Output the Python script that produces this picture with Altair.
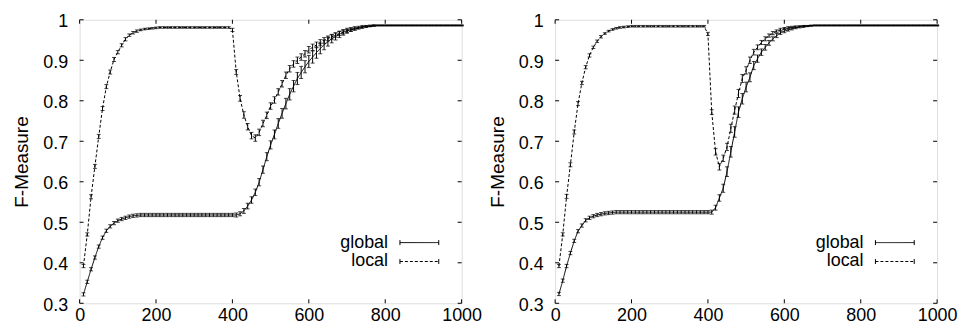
import altair as alt
import pandas as pd

FONT = "Liberation Sans"

X = list(range(10, 1001, 10))
XTICKS = [0, 200, 400, 600, 800, 1000]
YTICKS = [0.3, 0.4, 0.5, 0.6, 0.7, 0.8, 0.9, 1.0]
SERIES = ["global", "local"]

# ---- left panel ----
GLOBAL_L = [
    0.322, 0.353, 0.384, 0.413, 0.440, 0.462, 0.479, 0.490, 0.498, 0.504,
    0.508, 0.511, 0.514, 0.516, 0.517, 0.518, 0.518, 0.518, 0.518, 0.518,
    0.518, 0.518, 0.518, 0.518, 0.518, 0.518, 0.518, 0.518, 0.518, 0.518,
    0.518, 0.518, 0.518, 0.518, 0.518, 0.518, 0.518, 0.518, 0.518, 0.518,
    0.518, 0.521, 0.528, 0.540, 0.555, 0.574, 0.599, 0.630, 0.662, 0.691,
    0.717, 0.744, 0.769, 0.793, 0.816, 0.836, 0.855, 0.870, 0.884, 0.897,
    0.908, 0.919, 0.929, 0.938, 0.946, 0.953, 0.959, 0.964, 0.969, 0.973,
    0.976, 0.979, 0.981, 0.983, 0.984, 0.985, 0.986, 0.986, 0.986, 0.986,
    0.986, 0.986, 0.986, 0.986, 0.986, 0.986, 0.986, 0.986, 0.986, 0.986,
    0.986, 0.986, 0.986, 0.986, 0.986, 0.986, 0.986, 0.986, 0.986, 0.986,
]
GLOBAL_L_ERR = [
    0.004, 0.004, 0.004, 0.004, 0.004, 0.004, 0.004, 0.004, 0.004, 0.004,
    0.004, 0.004, 0.004, 0.004, 0.004, 0.004, 0.004, 0.004, 0.004, 0.004,
    0.004, 0.004, 0.004, 0.004, 0.004, 0.004, 0.004, 0.004, 0.004, 0.004,
    0.004, 0.004, 0.004, 0.004, 0.004, 0.004, 0.004, 0.004, 0.004, 0.004,
    0.005, 0.005, 0.006, 0.007, 0.008, 0.008, 0.009, 0.009, 0.010, 0.010,
    0.011, 0.012, 0.012, 0.013, 0.014, 0.014, 0.015, 0.015, 0.015, 0.015,
    0.015, 0.014, 0.013, 0.012, 0.011, 0.010, 0.009, 0.008, 0.007, 0.006,
    0.005, 0.004, 0.003, 0.003, 0.002, 0.002, 0.002, 0.001, 0.001, 0.001,
    0.001, 0.001, 0.001, 0.001, 0.001, 0.001, 0.001, 0.001, 0.001, 0.001,
    0.001, 0.001, 0.001, 0.001, 0.001, 0.001, 0.001, 0.001, 0.001, 0.001,
]
LOCAL_L = [
    0.392, 0.470, 0.563, 0.638, 0.712, 0.781, 0.835, 0.871, 0.902, 0.920,
    0.937, 0.952, 0.962, 0.968, 0.972, 0.975, 0.977, 0.978, 0.979, 0.980,
    0.981, 0.981, 0.981, 0.981, 0.981, 0.981, 0.981, 0.981, 0.981, 0.981,
    0.981, 0.981, 0.981, 0.981, 0.981, 0.981, 0.981, 0.981, 0.981, 0.975,
    0.871, 0.806, 0.765, 0.736, 0.714, 0.708, 0.722, 0.744, 0.764, 0.787,
    0.802, 0.822, 0.842, 0.863, 0.879, 0.891, 0.900, 0.908, 0.916, 0.926,
    0.932, 0.938, 0.944, 0.949, 0.954, 0.958, 0.962, 0.966, 0.969, 0.972,
    0.975, 0.977, 0.979, 0.981, 0.983, 0.984, 0.985, 0.986, 0.986, 0.986,
    0.986, 0.986, 0.986, 0.986, 0.986, 0.986, 0.986, 0.986, 0.986, 0.986,
    0.986, 0.986, 0.986, 0.986, 0.986, 0.986, 0.986, 0.986, 0.986, 0.986,
]
LOCAL_L_ERR = [
    0.004, 0.004, 0.005, 0.005, 0.005, 0.005, 0.005, 0.005, 0.005, 0.004,
    0.004, 0.004, 0.003, 0.003, 0.003, 0.002, 0.002, 0.002, 0.002, 0.002,
    0.002, 0.002, 0.002, 0.002, 0.002, 0.002, 0.002, 0.002, 0.002, 0.002,
    0.002, 0.002, 0.002, 0.002, 0.002, 0.002, 0.002, 0.002, 0.002, 0.004,
    0.006, 0.007, 0.008, 0.008, 0.008, 0.008, 0.008, 0.008, 0.008, 0.008,
    0.008, 0.008, 0.008, 0.008, 0.008, 0.008, 0.008, 0.008, 0.008, 0.008,
    0.008, 0.007, 0.007, 0.007, 0.006, 0.006, 0.005, 0.005, 0.004, 0.004,
    0.003, 0.003, 0.002, 0.002, 0.002, 0.001, 0.001, 0.001, 0.001, 0.001,
    0.001, 0.001, 0.001, 0.001, 0.001, 0.001, 0.001, 0.001, 0.001, 0.001,
    0.001, 0.001, 0.001, 0.001, 0.001, 0.001, 0.001, 0.001, 0.001, 0.001,
]

# ---- right panel ----
GLOBAL_R = [
    0.323, 0.356, 0.392, 0.424, 0.454, 0.478, 0.492, 0.505, 0.511, 0.515,
    0.518, 0.520, 0.522, 0.523, 0.524, 0.525, 0.525, 0.525, 0.525, 0.525,
    0.525, 0.525, 0.525, 0.525, 0.525, 0.525, 0.525, 0.525, 0.525, 0.525,
    0.525, 0.525, 0.525, 0.525, 0.525, 0.525, 0.525, 0.525, 0.525, 0.525,
    0.525, 0.536, 0.560, 0.584, 0.625, 0.674, 0.723, 0.772, 0.805, 0.834,
    0.858, 0.887, 0.904, 0.920, 0.932, 0.943, 0.953, 0.961, 0.968, 0.972,
    0.975, 0.978, 0.980, 0.982, 0.983, 0.984, 0.985, 0.986, 0.986, 0.986,
    0.986, 0.986, 0.986, 0.986, 0.986, 0.986, 0.986, 0.986, 0.986, 0.986,
    0.986, 0.986, 0.986, 0.986, 0.986, 0.986, 0.986, 0.986, 0.986, 0.986,
    0.986, 0.986, 0.986, 0.986, 0.986, 0.986, 0.986, 0.986, 0.986, 0.986,
]
GLOBAL_R_ERR = [
    0.004, 0.004, 0.004, 0.004, 0.004, 0.004, 0.004, 0.004, 0.004, 0.004,
    0.004, 0.004, 0.004, 0.004, 0.004, 0.004, 0.004, 0.004, 0.004, 0.004,
    0.004, 0.004, 0.004, 0.004, 0.004, 0.004, 0.004, 0.004, 0.004, 0.004,
    0.004, 0.004, 0.004, 0.004, 0.004, 0.004, 0.004, 0.004, 0.004, 0.004,
    0.005, 0.006, 0.008, 0.010, 0.012, 0.013, 0.013, 0.013, 0.013, 0.012,
    0.011, 0.010, 0.009, 0.008, 0.007, 0.006, 0.005, 0.005, 0.004, 0.004,
    0.003, 0.003, 0.002, 0.002, 0.002, 0.001, 0.001, 0.001, 0.001, 0.001,
    0.001, 0.001, 0.001, 0.001, 0.001, 0.001, 0.001, 0.001, 0.001, 0.001,
    0.001, 0.001, 0.001, 0.001, 0.001, 0.001, 0.001, 0.001, 0.001, 0.001,
    0.001, 0.001, 0.001, 0.001, 0.001, 0.001, 0.001, 0.001, 0.001, 0.001,
]
LOCAL_R = [
    0.392, 0.470, 0.564, 0.642, 0.723, 0.793, 0.844, 0.883, 0.912, 0.932,
    0.947, 0.958, 0.966, 0.972, 0.976, 0.979, 0.981, 0.982, 0.983, 0.984,
    0.984, 0.984, 0.984, 0.984, 0.984, 0.984, 0.984, 0.984, 0.984, 0.984,
    0.984, 0.984, 0.984, 0.984, 0.984, 0.984, 0.984, 0.984, 0.984, 0.965,
    0.772, 0.674, 0.637, 0.658, 0.686, 0.732, 0.777, 0.818, 0.855, 0.875,
    0.900, 0.920, 0.932, 0.944, 0.953, 0.961, 0.967, 0.972, 0.976, 0.979,
    0.981, 0.982, 0.983, 0.984, 0.985, 0.985, 0.986, 0.986, 0.986, 0.986,
    0.986, 0.986, 0.986, 0.986, 0.986, 0.986, 0.986, 0.986, 0.986, 0.986,
    0.986, 0.986, 0.986, 0.986, 0.986, 0.986, 0.986, 0.986, 0.986, 0.986,
    0.986, 0.986, 0.986, 0.986, 0.986, 0.986, 0.986, 0.986, 0.986, 0.986,
]
LOCAL_R_ERR = [
    0.004, 0.004, 0.005, 0.005, 0.005, 0.005, 0.004, 0.004, 0.004, 0.003,
    0.003, 0.003, 0.002, 0.002, 0.002, 0.002, 0.002, 0.002, 0.002, 0.002,
    0.002, 0.002, 0.002, 0.002, 0.002, 0.002, 0.002, 0.002, 0.002, 0.002,
    0.002, 0.002, 0.002, 0.002, 0.002, 0.002, 0.002, 0.002, 0.002, 0.004,
    0.006, 0.008, 0.008, 0.008, 0.009, 0.010, 0.010, 0.010, 0.010, 0.009,
    0.008, 0.007, 0.006, 0.005, 0.005, 0.004, 0.004, 0.003, 0.003, 0.002,
    0.002, 0.002, 0.002, 0.001, 0.001, 0.001, 0.001, 0.001, 0.001, 0.001,
    0.001, 0.001, 0.001, 0.001, 0.001, 0.001, 0.001, 0.001, 0.001, 0.001,
    0.001, 0.001, 0.001, 0.001, 0.001, 0.001, 0.001, 0.001, 0.001, 0.001,
    0.001, 0.001, 0.001, 0.001, 0.001, 0.001, 0.001, 0.001, 0.001, 0.001,
]

W, H = 384, 285
XS = alt.Scale(domain=[0, 1000], nice=False, zero=False)
YS = alt.Scale(domain=[0.3, 1.0], nice=False, zero=False)
DASH = {"global": [1, 0], "local": [3, 2]}

XAX = alt.Axis(values=XTICKS, title="", ticks=False, tickSize=0, domain=False,
               grid=False, labelPadding=3, labelFontSize=18, labelFont=FONT,
               labelColor="black", labelFlush=False, format="d")
YAX = alt.Axis(values=YTICKS, title="F-Measure", ticks=False, tickSize=0,
               domain=False, grid=False, labelPadding=12, labelFontSize=18,
               labelFont=FONT, labelColor="black", format=".1~f",
               labelBaseline="top", labelOffset=-7,
               labelFlush=False, titleFont=FONT, titleFontSize=19,
               titleFontWeight="normal", titleColor="black", titlePadding=11)


def xq(field):
    return alt.X(field, type="quantitative", scale=XS, axis=XAX)


def yq(field):
    return alt.Y(field, type="quantitative", scale=YS, axis=YAX)


def series_layers(name, ys, errs):
    df = pd.DataFrame({"x": X, "y": ys, "e": errs})
    df["lo"] = df["y"] - df["e"]
    df["hi"] = df["y"] + df["e"]
    base = alt.Chart(df)
    line = base.mark_line(color="black", strokeWidth=1,
                          strokeDash=DASH[name]).encode(x=xq("x"), y=yq("y"))
    bars = base.mark_rule(color="black", strokeWidth=1).encode(
        x=xq("x"), y=yq("lo"), y2="hi:Q")
    cap_lo = base.mark_tick(color="black", orient="horizontal", size=4,
                            thickness=1).encode(x=xq("x"), y=yq("lo"))
    cap_hi = base.mark_tick(color="black", orient="horizontal", size=4,
                            thickness=1).encode(x=xq("x"), y=yq("hi"))
    return [line, bars, cap_lo, cap_hi]


def tick_layers():
    xt = alt.Chart(pd.DataFrame({"x": XTICKS}))
    yt = alt.Chart(pd.DataFrame({"y": YTICKS}))
    return [
        xt.mark_rule(color="black").encode(x=xq("x"), y=alt.value(H), y2=alt.value(H - 4)),
        xt.mark_rule(color="black").encode(x=xq("x"), y=alt.value(0), y2=alt.value(4)),
        yt.mark_rule(color="black").encode(y=yq("y"), x=alt.value(0), x2=alt.value(4)),
        yt.mark_rule(color="black").encode(y=yq("y"), x=alt.value(W), x2=alt.value(W - 4)),
    ]


def legend_layers():
    out = []
    ypos = {"global": 224, "local": 243}
    for name in SERIES:
        d = alt.Chart(pd.DataFrame({"t": [name]}))
        yy = ypos[name]
        out.append(d.mark_text(align="right", baseline="middle", fontSize=18,
                               font=FONT, color="black").encode(
            text="t:N", x=alt.value(310), y=alt.value(yy)))
        out.append(d.mark_rule(color="black", strokeWidth=1,
                               strokeDash=DASH[name]).encode(
            x=alt.value(322), x2=alt.value(361), y=alt.value(yy)))
        out.append(d.mark_rule(color="black", strokeWidth=1).encode(
            x=alt.value(322), y=alt.value(yy - 2.5), y2=alt.value(yy + 2.5)))
        out.append(d.mark_rule(color="black", strokeWidth=1).encode(
            x=alt.value(361), y=alt.value(yy - 2.5), y2=alt.value(yy + 2.5)))
    return out


def panel(gy, ge, ly, le):
    layers = (series_layers("global", gy, ge)
              + series_layers("local", ly, le)
              + tick_layers() + legend_layers())
    return alt.layer(*layers).properties(width=W, height=H)


left = panel(GLOBAL_L, GLOBAL_L_ERR, LOCAL_L, LOCAL_L_ERR)
right = panel(GLOBAL_R, GLOBAL_R_ERR, LOCAL_R, LOCAL_R_ERR)

chart = alt.hconcat(left, right, spacing=94, bounds="flush").properties(
    padding={"left": 4, "top": 3, "right": 2, "bottom": 0}
).configure_view(stroke="black", strokeWidth=1.2).configure(background="white")

chart.save("out.html", embed_options={"renderer": "svg", "actions": False})
